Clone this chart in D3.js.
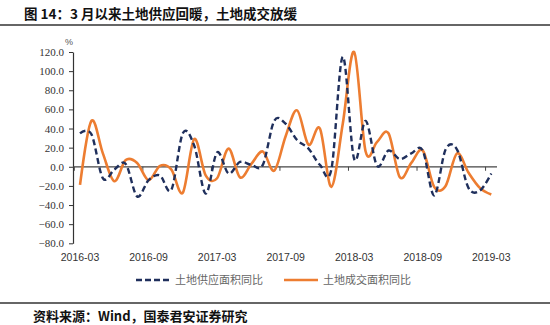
<!DOCTYPE html>
<html>
<head>
<meta charset="utf-8">
<script src="https://cdn.jsdelivr.net/npm/d3@7"></script>
<style>
  body { margin: 0; background: #fff; }
  svg { display: block; }
</style>
</head>
<body>
<div id="chart-area"></div>
<script>
// 月度数据：2016-03 至 2019-03
var startMonth = new Date(2016, 2, 1);
var endMonth = new Date(2019, 3, 1);

// 土地供应面积同比 (%)
var supply = [35, 34, -12, -3, 3, -31, -14, -9, -24, 35,
              22, -28, 15, -7, 5, 2, 2, 48, 45, 28,
              19, 2, -3, 115, 8, 48, 1, 17, 8, 14,
              17, -30, 18, 18, -22, -25, -7];

// 土地成交面积同比 (%)
var trade = [-19, 48, 14, -15, 7, 4, -14, 1, -3, -27,
             29, -9, -12, 19, -11, 3, 16, -4, 32, 59,
             23, 40, -21, 45, 120, 16, 26, 35, -11, 4,
             17, -21, -20, 14, -6, -22, -29];

var xTickLabels = ["2016-03", "2016-09", "2017-03", "2017-09", "2018-03", "2018-09", "2019-03"];
var yTicks = [-80, -60, -40, -20, 0, 20, 40, 60, 80, 100, 120];

var seriesNames = ["土地供应面积同比", "土地成交面积同比"];
var colors = ["#1f2f5c", "#ed7d31"];

var fmtMonth = d3.timeFormat("%Y-%m");
var months = d3.timeMonth.range(startMonth, endMonth).map(fmtMonth);

var svg = d3.select("#chart-area").append("svg")
    .attr("width", 550)
    .attr("height", 325);

// 标题
svg.append("text")
    .attr("x", 24)
    .attr("y", 19)
    .attr("font-family", "'Noto Sans CJK SC', sans-serif")
    .attr("font-weight", "bold")
    .attr("font-size", 13.5)
    .attr("fill", "#111")
    .text("图 14：3 月以来土地供应回暖，土地成交放缓");

svg.append("line")
    .attr("x1", 0).attr("x2", 550)
    .attr("y1", 25).attr("y2", 25)
    .attr("stroke", "#666")
    .attr("stroke-width", 2);

var x = d3.scalePoint()
    .domain(months)
    .range([74.3, 497])
    .padding(0.5);

var y = d3.scaleLinear()
    .domain([-80, 120])
    .range([243.3, 52]);

// 纵轴
var yAxis = d3.axisLeft(y)
    .tickValues(yTicks)
    .tickFormat(d3.format(".1f"))
    .tickSize(4)
    .tickSizeOuter(0);

var gy = svg.append("g")
    .attr("transform", "translate(73,0)")
    .call(yAxis);

gy.select(".domain").attr("stroke", "#333").attr("stroke-width", 1.2);
gy.selectAll(".tick line").attr("stroke", "#333");
gy.selectAll(".tick text")
    .attr("x", -9)
    .attr("font-family", "'Liberation Serif', serif")
    .attr("font-size", 11)
    .attr("fill", "#333");

svg.append("text")
    .attr("x", 69)
    .attr("y", 45)
    .attr("text-anchor", "middle")
    .attr("font-family", "'Liberation Sans', sans-serif")
    .attr("font-size", 9)
    .attr("fill", "#555")
    .text("%");

// 零轴及刻度
var step = x.step();
svg.append("line")
    .attr("x1", 73).attr("x2", 497)
    .attr("y1", y(0)).attr("y2", y(0))
    .attr("stroke", "#444")
    .attr("stroke-width", 1.2);

svg.selectAll(".xtick")
    .data(xTickLabels)
    .enter()
    .append("line")
        .attr("class", "xtick")
        .attr("x1", d => x(d) - step / 2)
        .attr("x2", d => x(d) - step / 2)
        .attr("y1", y(0))
        .attr("y2", y(0) + 4)
        .attr("stroke", "#444");

svg.selectAll(".xlabel")
    .data(xTickLabels)
    .enter()
    .append("text")
        .attr("class", "xlabel")
        .attr("x", d => x(d))
        .attr("y", 261)
        .attr("text-anchor", "middle")
        .attr("font-family", "'Liberation Sans', sans-serif")
        .attr("font-size", 10.5)
        .attr("fill", "#333")
        .text(d => d);

// 折线
var line = d3.line()
    .x((d, i) => x(months[i]))
    .y(d => y(d))
    .curve(d3.curveCardinal.tension(0));

svg.append("path")
    .datum(trade)
    .attr("d", line)
    .attr("fill", "none")
    .attr("stroke", colors[1])
    .attr("stroke-width", 2.6);

svg.append("path")
    .datum(supply)
    .attr("d", line)
    .attr("fill", "none")
    .attr("stroke", colors[0])
    .attr("stroke-width", 2.4)
    .attr("stroke-dasharray", "6,3.5");

// 图例
var legend = svg.append("g");
var legendX = [136, 284];
seriesNames.forEach((name, i) => {
    legend.append("line")
        .attr("x1", legendX[i]).attr("x2", legendX[i] + 34)
        .attr("y1", 280).attr("y2", 280)
        .attr("stroke", colors[i])
        .attr("stroke-width", 2.4)
        .attr("stroke-dasharray", i === 0 ? "6,3" : null);
    legend.append("text")
        .attr("x", legendX[i] + 39)
        .attr("y", 284)
        .attr("font-family", "'Noto Sans CJK SC', sans-serif")
        .attr("font-size", 11)
        .attr("fill", "#666")
        .text(name);
});

// 资料来源
svg.append("line")
    .attr("x1", 0).attr("x2", 550)
    .attr("y1", 303).attr("y2", 303)
    .attr("stroke", "#333")
    .attr("stroke-width", 1.5);

svg.append("text")
    .attr("x", 33)
    .attr("y", 321)
    .attr("font-family", "'Noto Sans CJK SC', sans-serif")
    .attr("font-weight", "bold")
    .attr("font-size", 13)
    .attr("fill", "#111")
    .text("资料来源：Wind，国泰君安证券研究");
</script>
</body>
</html>
